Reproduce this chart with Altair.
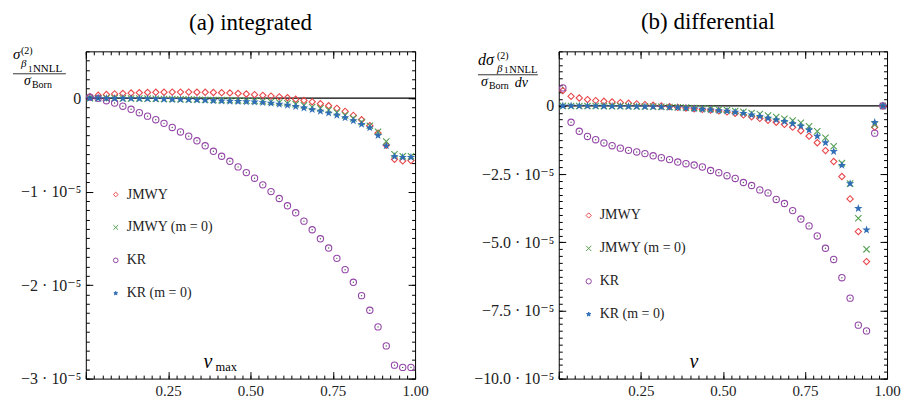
import altair as alt
import pandas as pd

FONT = "Liberation Serif, DejaVu Serif, serif"
RED, GREEN, PURPLE, BLUE = "#e8464a", "#55a052", "#9346a6", "#2f6db5"
SERIES = ["JMWY", "JMWY (m = 0)", "KR", "KR (m = 0)"]
X_PATH = "M-1,-1L1,1M-1,1L1,-1"
STAR = ("M0,-0.85L0.2,-0.275L0.81,-0.263L0.323,0.105L0.5,0.688L0,0.34"
        "L-0.5,0.688L-0.323,0.105L-0.81,-0.263L-0.2,-0.275Z")

# bin centres in v
X = [0.0125, 0.0375, 0.0625, 0.0875, 0.1125, 0.1375, 0.1625, 0.1875, 0.2125, 0.2375,
     0.2625, 0.2875, 0.3125, 0.3375, 0.3625, 0.3875, 0.4125, 0.4375, 0.4625, 0.4875,
     0.5125, 0.5375, 0.5625, 0.5875, 0.6125, 0.6375, 0.6625, 0.6875, 0.7125, 0.7375,
     0.7625, 0.7875, 0.8125, 0.8375, 0.8625, 0.8875, 0.9125, 0.9375, 0.9625, 0.9875]

# (a) integrated, in units of 1e-5
INT_JMWY = [0.015, 0.03, 0.038, 0.045, 0.05, 0.054, 0.058, 0.06, 0.062, 0.063,
            0.064, 0.064, 0.064, 0.063, 0.062, 0.06, 0.058, 0.055, 0.05, 0.044,
            0.037, 0.029, 0.021, 0.013, 0.004, -0.012, -0.025, -0.04, -0.06, -0.082,
            -0.11, -0.142, -0.185, -0.232, -0.295, -0.375, -0.505, -0.655, -0.672, -0.668]
INT_JMWY0 = [0.0, -0.001, -0.001, -0.002, -0.003, -0.004, -0.005, -0.006, -0.007, -0.009,
             -0.01, -0.012, -0.014, -0.016, -0.018, -0.02, -0.022, -0.024, -0.026, -0.028,
             -0.03, -0.034, -0.04, -0.047, -0.055, -0.065, -0.078, -0.095, -0.11, -0.127,
             -0.155, -0.185, -0.217, -0.255, -0.295, -0.36, -0.465, -0.6, -0.622, -0.622]
INT_KR = [0.01, -0.003, -0.028, -0.053, -0.087, -0.12, -0.156, -0.193, -0.231, -0.27,
          -0.314, -0.362, -0.407, -0.457, -0.51, -0.569, -0.622, -0.676, -0.736, -0.797,
          -0.857, -0.928, -1.0, -1.074, -1.152, -1.227, -1.316, -1.408, -1.505, -1.604,
          -1.714, -1.835, -1.97, -2.113, -2.269, -2.447, -2.65, -2.856, -2.88, -2.88]
INT_KR0 = [0.0, -0.001, -0.002, -0.003, -0.004, -0.005, -0.006, -0.008, -0.01, -0.012,
           -0.014, -0.016, -0.018, -0.021, -0.024, -0.027, -0.03, -0.033, -0.036, -0.038,
           -0.041, -0.047, -0.054, -0.065, -0.076, -0.089, -0.105, -0.122, -0.14, -0.16,
           -0.182, -0.21, -0.242, -0.28, -0.318, -0.4, -0.51, -0.625, -0.633, -0.633]

# (b) differential, in units of 1e-5
DIF_JMWY = [0.56, 0.35, 0.29, 0.23, 0.193, 0.168, 0.146, 0.12, 0.095, 0.073,
            0.047, 0.022, 0.0, -0.026, -0.055, -0.08, -0.105, -0.13, -0.155, -0.185,
            -0.22, -0.27, -0.33, -0.4, -0.46, -0.53, -0.6, -0.68, -0.78, -0.91,
            -1.11, -1.35, -1.64, -2.04, -2.59, -3.41, -4.61, -5.71, -0.78, 0.0]
DIF_JMWY0 = [0.0, -0.002, -0.003, -0.004, -0.006, -0.008, -0.01, -0.012, -0.015, -0.018,
             -0.022, -0.027, -0.033, -0.04, -0.05, -0.06, -0.075, -0.09, -0.11, -0.13,
             -0.155, -0.185, -0.22, -0.26, -0.3, -0.35, -0.41, -0.47, -0.54, -0.62,
             -0.75, -0.93, -1.17, -1.48, -2.1, -2.85, -4.12, -5.26, -0.69, 0.0]
DIF_KR = [0.66, -0.6, -0.93, -1.12, -1.24, -1.36, -1.46, -1.55, -1.63, -1.69,
          -1.75, -1.83, -1.9, -1.97, -2.06, -2.12, -2.17, -2.24, -2.37, -2.45,
          -2.56, -2.66, -2.81, -2.92, -3.08, -3.19, -3.43, -3.58, -3.84, -4.15,
          -4.4, -4.77, -5.22, -5.63, -6.3, -7.05, -8.04, -8.25, -1.0, 0.0]
DIF_KR0 = [0.0, -0.002, -0.004, -0.006, -0.008, -0.011, -0.014, -0.017, -0.021, -0.025,
           -0.03, -0.035, -0.042, -0.05, -0.06, -0.08, -0.1, -0.12, -0.145, -0.17,
           -0.19, -0.23, -0.27, -0.33, -0.38, -0.45, -0.51, -0.57, -0.65, -0.74,
           -0.88, -1.11, -1.35, -1.67, -2.18, -2.85, -3.76, -4.55, -0.6, 0.0]

X_MAJOR = [0.0, 0.25, 0.5, 0.75, 1.0]
X_LABELS = ["", "0.25", "0.50", "0.75", "1.00"]
X_MINOR = [i / 40 for i in range(41)]

A_Y_MAJOR = [0.0, -1e-5, -2e-5, -3e-5]
A_Y_LABELS = ["0", "−1 · 10⁻⁵", "−2 · 10⁻⁵", "−3 · 10⁻⁵"]
A_Y_MINOR = [(-30 + i) * 1e-6 for i in range(36)]
A_DOMAIN = [-3e-5, 0.5e-5]

B_Y_MAJOR = [0.0, -2.5e-5, -5e-5, -7.5e-5, -10e-5]
B_Y_LABELS = ["0", "−2.5 · 10⁻⁵", "−5.0 · 10⁻⁵", "−7.5 · 10⁻⁵", "−10.0 · 10⁻⁵"]
B_Y_MINOR = [(-40 + i) * 0.25e-5 for i in range(49)]
B_DOMAIN = [-10e-5, 2e-5]

H = 328


def make_df(cols):
    rows = []
    for name, vals in zip(SERIES, cols):
        for xv, yv in zip(X, vals):
            rows.append({"x": xv, "y": yv * 1e-5, "series": name})
    return pd.DataFrame(rows)


def label_expr(vals, labels, k):
    s = ""
    for v, l in zip(vals, labels):
        s += f"round(datum.value*{k}) == {round(v * k)} ? '{l}' : "
    return s + "''"


def ax(orient, values, size, labels=False, **kw):
    base = dict(orient=orient, values=values, tickSize=size, offset=-size,
                domain=False, grid=False, ticks=True, tickColor="black",
                tickWidth=1, labels=labels, title=None, labelFlush=False,
                labelOverlap=False, minExtent=0)
    base.update(kw)
    return alt.Axis(**base)


def text_piece(txt, dx, dy, size, style="normal"):
    return alt.Chart().mark_text(
        text=txt, font=FONT, fontSize=size, fontStyle=style, align="left",
        baseline="alphabetic", color="black"
    ).encode(x=alt.value(dx), y=alt.value(dy))


def panel(df, width, ydom, ymaj, ylab, ymin, title, legx, legy,
          symsize, frac, bar, title_dx, title_dy):
    xs = alt.Scale(domain=[0, 1], nice=False, zero=False)
    ys = alt.Scale(domain=ydom, nice=False, zero=False)
    leg = alt.Legend(orient="none", legendX=legx, legendY=legy, title=None,
                     labelFont=FONT, labelFontSize=14, labelColor="#222",
                     symbolSize=symsize, symbolStrokeWidth=1, rowPadding=19,
                     labelOffset=4, padding=0)
    zero = alt.Chart(pd.DataFrame({"y": [0.0]})).mark_rule(
        color="black", strokeWidth=1.1).encode(y=alt.Y("y:Q", scale=ys, axis=None))
    pts = alt.Chart(df).mark_point(strokeWidth=1.1, opacity=1, size=40).encode(
        x=alt.X("x:Q", scale=xs, axis=ax(
            "bottom", X_MAJOR, 7, labels=True,
            labelExpr=label_expr(X_MAJOR, X_LABELS, 1000),
            labelFont=FONT, labelFontSize=15, labelColor="#222", labelPadding=5)),
        y=alt.Y("y:Q", scale=ys, axis=ax(
            "left", ymaj, 7, labels=True,
            labelExpr=label_expr(ymaj, ylab, 1e7),
            labelFont=FONT, labelFontSize=16, labelColor="#222", labelPadding=5)),
        stroke=alt.Stroke("series:N", scale=alt.Scale(domain=SERIES, range=[RED, GREEN, PURPLE, BLUE]), legend=leg),
        fill=alt.Fill("series:N", scale=alt.Scale(domain=SERIES, range=["transparent", "transparent", "transparent", BLUE]), legend=leg),
        shape=alt.Shape("series:N", scale=alt.Scale(domain=SERIES, range=["diamond", X_PATH, "circle", STAR]), legend=leg),
    )
    dots = alt.Chart(df).transform_filter(alt.datum.series == "KR").mark_point(
        filled=True, size=2, color="#333", opacity=0.8).encode(
        x=alt.X("x:Q", scale=xs, axis=None), y=alt.Y("y:Q", scale=ys, axis=None))
    carrier = alt.Chart(df).mark_point(opacity=0)
    c1 = carrier.encode(x=alt.X("x:Q", scale=xs, axis=ax("top", X_MAJOR, 7)),
                        y=alt.Y("y:Q", scale=ys, axis=ax("right", ymaj, 7)))
    c2 = carrier.encode(x=alt.X("x:Q", scale=xs, axis=ax("bottom", X_MINOR, 3.5)),
                        y=alt.Y("y:Q", scale=ys, axis=ax("left", ymin, 3.5)))
    c3 = carrier.encode(x=alt.X("x:Q", scale=xs, axis=ax("top", X_MINOR, 3.5)),
                        y=alt.Y("y:Q", scale=ys, axis=ax("right", ymin, 3.5)))
    pieces = [text_piece(*p) for p in frac]
    barl = alt.Chart().mark_rule(color="black", strokeWidth=0.8).encode(
        x=alt.value(bar[0]), x2=alt.value(bar[1]), y=alt.value(bar[2]))
    return alt.layer(zero, c1, c2, c3, pts, dots, barl, *pieces).resolve_axis(
        x="independent", y="independent").properties(
        width=width, height=H,
        title=alt.TitleParams(title, font=FONT, fontSize=23, fontWeight="normal",
                              color="black", anchor="middle", frame="group",
                              baseline="alphabetic", offset=0, dx=title_dx,
                              dy=title_dy))


# fraction labels of the y axes and the in-plot x-axis titles
frac_a = [("σ", -73, 7.5, 15, "italic"), ("(2)", -65, 2.5, 10), ("β", -65, 16, 11, "italic"),
          ("1", -58, 20.5, 9), ("NNLL", -53, 20.5, 11),
          ("σ", -62, 34, 14, "italic"), ("Born", -54, 36.5, 10),
          ("v", 118, 317, 20, "italic"), ("max", 130, 320.5, 12.5)]
frac_b = [("dσ", -81, 13.5, 16, "italic"), ("(2)", -62, 7.5, 10), ("β", -62, 21, 11, "italic"),
          ("1", -55, 21.5, 9), ("NNLL", -49.5, 21.5, 10.5),
          ("σ", -78, 35, 14, "italic"), ("Born", -70, 37.5, 10), ("dv", -44, 35.5, 14, "italic"),
          ("v", 131, 317, 20, "italic")]

left = panel(make_df([INT_JMWY, INT_JMWY0, INT_KR, INT_KR0]), 330, A_DOMAIN, A_Y_MAJOR,
             A_Y_LABELS, A_Y_MINOR, "(a) integrated", 23, 136.5, 22,
             frac_a, (-73, -20, 22.5), 0, 7)
right = panel(make_df([DIF_JMWY, DIF_JMWY0, DIF_KR, DIF_KR0]), 329, B_DOMAIN, B_Y_MAJOR,
              B_Y_LABELS, B_Y_MINOR, "(b) differential", 23, 157.5, 28,
              frac_b, (-81, -21, 23.5), -15, 1.5)

chart = alt.hconcat(left, right, spacing=144, bounds="flush").resolve_scale(
    stroke="independent", fill="independent", shape="independent"
).properties(padding={"left": 12, "top": 10, "right": 0, "bottom": 2}).configure_view(
    stroke="black", strokeWidth=1)

chart.save("out.html", embed_options={"renderer": "svg", "actions": False})
